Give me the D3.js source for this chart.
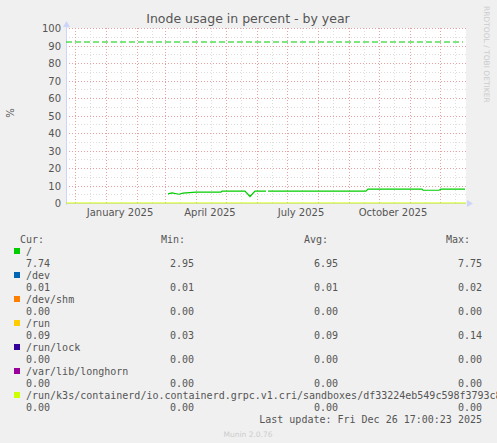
<!DOCTYPE html>
<html><head><meta charset="utf-8">
<script src="https://cdn.jsdelivr.net/npm/d3@7"></script>
<style>body{margin:0;background:#f0f0f0}svg{display:block}</style>
</head><body><svg id="chart"></svg>
<script>
// data
var rootDates = ["2025-03-04","2025-03-08","2025-03-15","2025-03-19","2025-04-01","2025-04-26","2025-04-27","2025-05-20","2025-05-25","2025-05-30","2025-06-10",null,"2025-06-12","2025-09-18","2025-09-20","2025-11-13","2025-11-14","2025-11-30","2025-12-02","2025-12-26"];
var rootValues = [5.2,5.8,5.0,5.6,6.2,6.2,6.8,6.8,3.7,6.8,6.8,null,6.8,6.8,7.9,7.9,7.3,7.3,7.9,7.9];
var warnLevel = 92;
var yTicks = [0,10,20,30,40,50,60,70,80,90,100];
var monthLabels = ["January 2025","April 2025","July 2025","October 2025"];
var labelDates = ["2025-01-15","2025-04-15","2025-07-15","2025-10-15"];
var legendNames = ["/","/dev","/dev/shm","/run","/run/lock","/var/lib/longhorn","/run/k3s/containerd/io.containerd.grpc.v1.cri/sandboxes/df33224eb549c598f3793c8"];
var legendColors = ["#00cc00","#0066b3","#ff8000","#ffcc00","#330099","#990099","#ccff00"];
var curVals = ["7.74","0.01","0.00","0.09","0.00","0.00","0.00"];
var minVals = ["2.95","0.01","0.00","0.03","0.00","0.00","0.00"];
var avgVals = ["6.95","0.01","0.00","0.09","0.00","0.00","0.00"];
var maxVals = ["7.75","0.02","0.00","0.14","0.00","0.00","0.00"];

var W = 497, H = 443;
var svg = d3.select("#chart").attr("width", W).attr("height", H);
var parse = d3.timeParse("%Y-%m-%d");
var x = d3.scaleTime().domain([parse("2024-11-22"), parse("2025-12-27")]).range([66, 466]);
var y = d3.scaleLinear().domain([0,100]).range([203, 28]);

svg.append("rect").attr("x",66).attr("y",28).attr("width",400).attr("height",175).attr("fill","#fff");

// minor grid
var halfMonths = d3.timeDay.range(parse("2024-11-22"), parse("2025-12-27")).filter(function(d){ return d.getDate()==16; });
svg.selectAll(".vmin").data(halfMonths).enter().append("line")
  .attr("x1",function(d){return Math.round(x(d))+0.5;}).attr("x2",function(d){return Math.round(x(d))+0.5;})
  .attr("y1",28).attr("y2",203).attr("stroke","#ddd").attr("stroke-dasharray","1,2");
svg.selectAll(".hmin").data(d3.range(5,100,10)).enter().append("line")
  .attr("x1",66).attr("x2",466).attr("y1",function(d){return Math.round(y(d))+0.5;}).attr("y2",function(d){return Math.round(y(d))+0.5;})
  .attr("stroke","#ddd").attr("stroke-dasharray","1,2");
// major grid
var months = d3.timeMonth.range(parse("2024-11-22"), parse("2025-12-27"));
svg.selectAll(".vmaj").data(months).enter().append("line")
  .attr("x1",function(d){return Math.round(x(d))+0.5;}).attr("x2",function(d){return Math.round(x(d))+0.5;})
  .attr("y1",28).attr("y2",203).attr("stroke","#e8a0a0").attr("stroke-dasharray","1,2");
svg.selectAll(".hmaj").data(yTicks.slice(1)).enter().append("line")
  .attr("x1",66).attr("x2",466).attr("y1",function(d){return Math.round(y(d))+0.5;}).attr("y2",function(d){return Math.round(y(d))+0.5;})
  .attr("stroke","#e8a0a0").attr("stroke-dasharray","1,2");

// axes
svg.append("line").attr("x1",66.5).attr("x2",66.5).attr("y1",24).attr("y2",205).attr("stroke","#ccd4f8");
svg.append("path").attr("d","M63,27 L66.5,21 L70,27 Z").attr("fill","#ccd4f8");
svg.append("path").attr("d","M467,200 L473,203.5 L467,207 Z").attr("fill","#ccd4f8");
svg.selectAll(".yl").data(yTicks).enter().append("text")
  .attr("x",61).attr("y",function(d){return y(d)+4;}).attr("text-anchor","end")
  .attr("font-family","DejaVu Sans").attr("font-size",10).attr("fill","#555").text(function(d){return d;});
svg.selectAll(".xl").data(labelDates).enter().append("text")
  .attr("x",function(d){return x(parse(d));}).attr("y",216).attr("text-anchor","middle")
  .attr("font-family","DejaVu Sans").attr("font-size",10).attr("fill","#555").text(function(d,i){return monthLabels[i];});

// zero series line
svg.append("line").attr("x1",66).attr("x2",466).attr("y1",y(0)).attr("y2",y(0)).attr("stroke","#ccff00").attr("stroke-width",1);
svg.append("line").attr("x1",66).attr("x2",466).attr("y1",y(0)+0.5).attr("y2",y(0)+0.5).attr("stroke","#c8d890").attr("stroke-width",0.5);

// warning line
svg.append("line").attr("x1",66).attr("x2",463).attr("y1",y(warnLevel)).attr("y2",y(warnLevel))
  .attr("stroke","#00cc00").attr("stroke-width",1.2).attr("stroke-dasharray","6,3");

// root series
var pts = rootDates.map(function(d,i){ return d ? {t:parse(d), v:rootValues[i]} : null; });
var line = d3.line().defined(function(d){return d!==null;}).x(function(d){return x(d.t);}).y(function(d){return y(d.v);});
svg.append("path").datum(pts).attr("d",line).attr("fill","none").attr("stroke","#00cc00").attr("stroke-width",1.2);

// title and labels
svg.append("text").attr("x",248).attr("y",23).attr("text-anchor","middle").attr("font-family","DejaVu Sans")
  .attr("font-size",12.5).attr("fill","#555").text("Inode usage in percent - by year");
svg.append("text").attr("transform","translate(14,113) rotate(-90)").attr("text-anchor","middle")
  .attr("font-family","DejaVu Sans").attr("font-size",10).attr("fill","#555").text("%");
svg.append("text").attr("transform","translate(484,6) rotate(90)").attr("font-family","DejaVu Sans")
  .attr("font-size",7.5).attr("fill","#ccc").text("RRDTOOL / TOBI OETIKER");

// legend
var mono = "DejaVu Sans Mono";
function txt(xp, yp, s, anchor, col){
  svg.append("text").attr("x",xp).attr("y",yp).attr("text-anchor",anchor||"start")
    .attr("font-family",mono).attr("font-size",10).attr("fill",col||"#555").text(s);
}
txt(20,243,"Cur:"); txt(185,243,"Min:","end"); txt(328,243,"Avg:","end"); txt(470,243,"Max:","end");
legendNames.forEach(function(n,i){
  var yy = 255 + i*24;
  svg.append("rect").attr("x",14).attr("y",yy-7).attr("width",6).attr("height",6).attr("fill",legendColors[i]);
  txt(26,yy,n);
  txt(50,yy+12,curVals[i],"end"); txt(194,yy+12,minVals[i],"end");
  txt(338,yy+12,avgVals[i],"end"); txt(482,yy+12,maxVals[i],"end");
});
txt(482,423,"Last update: Fri Dec 26 17:00:23 2025","end");
svg.append("text").attr("x",248).attr("y",437).attr("text-anchor","middle").attr("font-family","DejaVu Sans")
  .attr("font-size",7.5).attr("fill","#ccc").text("Munin 2.0.76");
</script></body></html>
